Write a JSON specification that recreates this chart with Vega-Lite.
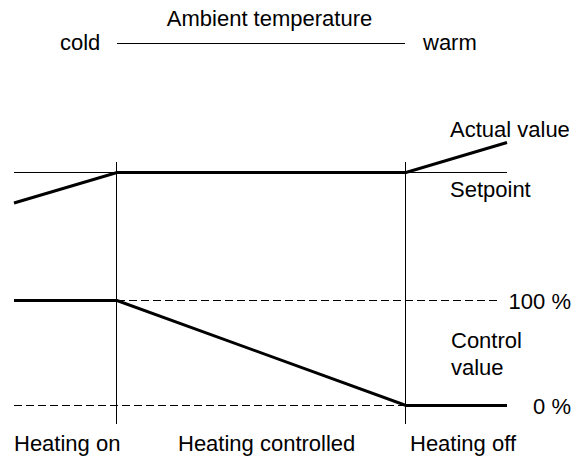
{
  "$schema": "https://vega.github.io/schema/vega-lite/v6.json",
  "width": 574,
  "height": 457,
  "padding": 0,
  "autosize": {"type": "fit", "contains": "padding"},
  "background": "white",
  "config": {"view": {"stroke": null}, "font": "Liberation Sans"},
  "datasets": {
    "thick": [
      {"series": "Actual value", "ord": 1, "x": 14, "y": 203},
      {"series": "Actual value", "ord": 2, "x": 117, "y": 172.5},
      {"series": "Actual value", "ord": 3, "x": 406, "y": 172.5},
      {"series": "Actual value", "ord": 4, "x": 507, "y": 142.5},
      {"series": "Control value", "ord": 1, "x": 14, "y": 300.5},
      {"series": "Control value", "ord": 2, "x": 117, "y": 300.5},
      {"series": "Control value", "ord": 3, "x": 406, "y": 405.5},
      {"series": "Control value", "ord": 4, "x": 507, "y": 405.5}
    ],
    "thin": [
      {"name": "Ambient temperature", "x": 117, "x2": 405, "y": 43.5, "y2": 43.5},
      {"name": "Setpoint", "x": 14, "x2": 507, "y": 172.5, "y2": 172.5},
      {"name": "Heating on", "x": 116.5, "x2": 116.5, "y": 162, "y2": 424},
      {"name": "Heating off", "x": 405.5, "x2": 405.5, "y": 162, "y2": 424}
    ],
    "dashed": [
      {"name": "100 %", "x": 117, "x2": 497, "y": 300.5, "y2": 300.5},
      {"name": "0 %", "x": 14, "x2": 406, "y": 405.5, "y2": 405.5}
    ],
    "labels": [
      {"text": "Ambient temperature", "x": 269.5, "y": 26, "align": "center"},
      {"text": "cold", "x": 60, "y": 50, "align": "left"},
      {"text": "warm", "x": 423, "y": 50, "align": "left"},
      {"text": "Actual value", "x": 450, "y": 137, "align": "left"},
      {"text": "Setpoint", "x": 450, "y": 197, "align": "left"},
      {"text": "Control", "x": 451, "y": 348, "align": "left"},
      {"text": "value", "x": 451, "y": 375, "align": "left"},
      {"text": "100 %", "x": 571, "y": 309, "align": "right"},
      {"text": "0 %", "x": 571, "y": 414, "align": "right"},
      {"text": "Heating on", "x": 14, "y": 451, "align": "left"},
      {"text": "Heating controlled", "x": 178, "y": 451, "align": "left"},
      {"text": "Heating off", "x": 410, "y": 451, "align": "left"}
    ]
  },
  "layer": [
    {
      "data": {"name": "thin"},
      "mark": {"type": "rule", "color": "black", "strokeWidth": 1},
      "encoding": {
        "x": {"field": "x", "type": "quantitative", "scale": {"domain": [0, 574], "nice": false, "zero": false}, "axis": null},
        "x2": {"field": "x2"},
        "y": {"field": "y", "type": "quantitative", "scale": {"domain": [0, 457], "reverse": true, "nice": false, "zero": false}, "axis": null},
        "y2": {"field": "y2"}
      }
    },
    {
      "data": {"name": "dashed"},
      "mark": {"type": "rule", "color": "black", "strokeWidth": 1, "strokeDash": [8, 4]},
      "encoding": {
        "x": {"field": "x", "type": "quantitative", "axis": null},
        "x2": {"field": "x2"},
        "y": {"field": "y", "type": "quantitative", "axis": null},
        "y2": {"field": "y2"}
      }
    },
    {
      "data": {"name": "thick"},
      "mark": {"type": "line", "color": "black", "strokeWidth": 3},
      "encoding": {
        "x": {"field": "x", "type": "quantitative", "axis": null},
        "y": {"field": "y", "type": "quantitative", "axis": null},
        "detail": {"field": "series"},
        "order": {"field": "ord"}
      }
    },
    {
      "data": {"name": "labels"},
      "transform": [{"filter": "datum.align === 'left'"}],
      "mark": {"type": "text", "fontSize": 22, "baseline": "alphabetic", "align": "left", "color": "black"},
      "encoding": {
        "x": {"field": "x", "type": "quantitative", "axis": null},
        "y": {"field": "y", "type": "quantitative", "axis": null},
        "text": {"field": "text"}
      }
    },
    {
      "data": {"name": "labels"},
      "transform": [{"filter": "datum.align === 'right'"}],
      "mark": {"type": "text", "fontSize": 22, "baseline": "alphabetic", "align": "right", "color": "black"},
      "encoding": {
        "x": {"field": "x", "type": "quantitative", "axis": null},
        "y": {"field": "y", "type": "quantitative", "axis": null},
        "text": {"field": "text"}
      }
    },
    {
      "data": {"name": "labels"},
      "transform": [{"filter": "datum.align === 'center'"}],
      "mark": {"type": "text", "fontSize": 22, "baseline": "alphabetic", "align": "center", "color": "black"},
      "encoding": {
        "x": {"field": "x", "type": "quantitative", "axis": null},
        "y": {"field": "y", "type": "quantitative", "axis": null},
        "text": {"field": "text"}
      }
    }
  ]
}
